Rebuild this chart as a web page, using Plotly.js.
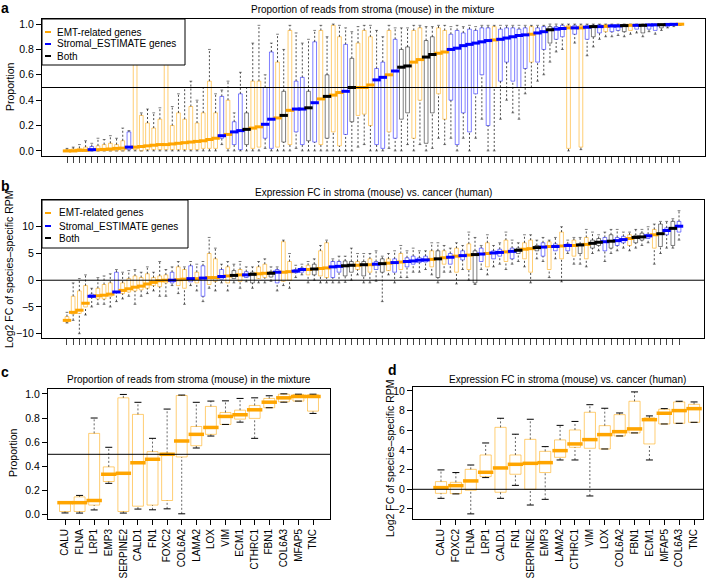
<!DOCTYPE html>
<html><head><meta charset="utf-8">
<script src="https://cdn.plot.ly/plotly-3.0.1.min.js"></script>
<style>html,body{margin:0;padding:0;background:#fff}#chart{width:713px;height:579px}</style>
</head><body><div id="chart"></div>
<script>
// ---------- Panel a: proportion of reads from stroma (per gene, sorted by median) ----------
const aMed=[0,0,.005,.005,.01,.01,.012,.015,.02,.022, .03,.03,.035,.04,.045,.05,.05,.055,.06,.065,
 .07,.075,.08,.09,.10,.12,.13,.15,.16,.17, .18,.19,.21,.25,.26,.28,.32,.33,.33,.34,
 .38,.41,.43,.44,.46,.47,.50,.50,.50,.52, .56,.58,.60,.63,.66,.67,.70,.72,.74,.76,
 .77,.78,.80,.81,.83,.84,.85,.86,.87,.875, .88,.89,.90,.91,.915,.92,.93,.94,.955,.96,
 .965,.97,.97,.97,.975,.98,.98,.982,.985,.985, .988,.99,.99,.99,.993,.994,.995,.997,.998,.999];
const aQ1=[0,0,0,0,0,0,0,0,0,0, .01,.01,0,.01,.01,.01,.01,.01,.01,.01,
 .01,.01,.02,.02,.02,.10,.02,.05,.01,.05, .02,.03,.10,.02,.03,.07,.05,.15,.05,.08,
 .07,.05,.10,.15,.04,.13,.23,.28,.29,.20, .05,.02,.15,.10,.25,.30,.10,.40,.06,.30,
 .45,.25,.40,.05,.30,.15,.45,.60,.20,.50, .55,.70,.55,.50,.65,.70,.70,.80,.85,.88,
 .90,.02,.92,.03,.88,.90,.93,.94,.94,.95, .94,.95,.96,.93,.96,.95,.97,.98,.99,.99];
const aQ3=[.01,.015,.02,.03,.035,.04,.05,.06,.05,.08, .15,.97,.28,.22,.18,.25,.69,.20,.30,.25,
 .35,.22,.30,.55,.30,.43,.40,.23,.45,.30, .55,.55,.50,.78,.70,.47,.95,.55,.58,.47,
 .86,.95,.60,.99,.90,.84,.73,.85,.95,.90, .65,.70,.95,.88,.80,.82,.95,.97,.87,.90,
 .97,.95,.92,.95,.93,.96,.95,.97,.97,.98, .96,.97,.97,.96,.97,.98,.97,.98,.98,.98,
 .99,.99,.99,.99,.99,.99,.995,.995,.995,.995, .997,.997,.998,.998,.998,.999,.999,1,1,1];
const aLo=[0,0,0,0,0,0,0,0,0,0, 0,0,0,0,0,0,0,0,0,0,
 0,0,0,0,0,.05,0,0,0,0, 0,0,.02,0,0,0,0,.02,0,0,
 0,0,0,0,0,0,0,.03,.05,0, 0,0,.02,0,0,.05,0,.05,0,.02,
 .10,.05,.10,0,.10,0,.10,.25,0,0, .25,.40,.30,.25,.45,.50,.55,.60,.70,.78,
 .80,0,.85,.01,.75,.82,.88,.90,.90,.91, .90,.92,.93,.90,.94,.92,.95,.97,.98,.99];
const aHi=[.02,.03,.05,.08,.06,.10,.09,.12,.10,.18, .16,.99,.30,.33,.30,.34,.73,.35,.45,.50,
 .55,.40,.50,.80,.45,.48,.55,.30,.62,.50, .85,.99,.60,.85,.92,.80,.99,.93,.85,.88,
 .95,.99,.90,1,.99,.97,.94,.98,.99,.99, .95,.90,.99,.97,.97,.97,.99,.99,.98,.98,
 .99,.99,.98,.99,.98,.99,.98,.99,.99,.99, .99,.99,.99,.99,.99,.99,.99,.99,1,1,
 1,1,1,1,1,1,1,1,1,1, 1,1,1,1,1,1,1,1,1,1];
// E = EMT-related, S = Stromal_ESTIMATE, B = both
const aType=['E','E','E','E','S','E','E','E','E','E', 'S','E','E','E','E','E','E','E','E','E',
 'E','E','E','E','E','S','E','S','S','B', 'E','E','S','S','E','B','E','S','S','B',
 'S','E','B','E','E','S','B','E','E','E', 'S','S','E','S','B','B','E','E','B','B',
 'E','E','S','S','S','S','S','S','S','E', 'S','S','S','S','S','E','S','S','B','S',
 'S','E','S','E','S','B','S','E','S','S', 'B','E','S','B','S','S','B','S','S','E'];

// ---------- Panel b: log2 FC stroma vs cancer ----------
const bMed=[-7.5,-6.0,-5.6,-4.3,-3.0,-2.9,-2.8,-2.6,-2.2,-1.9, -1.6,-1.3,-1.1,-0.7,-0.4,-0.1,0.0,0.0,0.1,0.2,
 0.3,0.3,0.4,0.5,0.5,0.7,0.8,0.9,1.0,1.0, 1.1,1.2,1.3,1.3,1.5,1.5,1.6,1.7,2.0,2.0,
 2.1,2.2,2.3,2.5,2.6,2.7,2.8,2.8,2.9,2.9, 3.0,3.1,3.2,3.3,3.4,3.5,3.6,3.75,3.8,3.9,
 4.0,4.2,4.3,4.5,4.6,4.7,4.8,4.9,5.0,5.1, 5.2,5.3,5.4,5.6,5.8,5.9,6.1,6.2,6.3,6.3,
 6.4,6.5,6.5,6.6,6.7,6.9,7.1,7.2,7.3,7.4, 7.6,7.8,8.0,8.1,8.3,8.5,8.7,9.3,9.7,10.1];
const bQ1=[-7.8,-6.3,-6.2,-5.0,-3.2,-3.5,-3.5,-3.0,-2.3,-2.5, -2.2,-2.0,-1.8,-1.5,-1.0,-1.2,-0.5,-0.5,-1.0,-1.5,
 -0.3,-0.5,-3.0,-0.8,-0.2,0.2,-0.5,0.3,-0.2,0.5, -0.5,0.3,0.5,0.6,-0.5,-0.2,0.0,1.4,1.5,1.0,
 1.0,0.8,0.5,0.5,1.5,0.8,1.5,2.0,0.8,1.5, 2.0,1.5,1.8,1.5,2.0,2.5,3.0,3.3,3.4,2.5,
 0.5,3.0,3.0,1.5,3.8,2.0,-0.5,3.5,2.5,4.0, 4.5,3.5,4.0,5.0,4.0,1.5,5.5,4.5,2.0,5.5,
 4.0,5.5,4.5,5.0,4.0,6.0,6.5,5.5,6.0,6.5, 7.0,6.5,7.0,7.5,7.8,6.0,6.3,8.5,6.5,9.0];
const bQ3=[-6.8,-3.0,-2.0,-1.0,-2.6,-1.5,-0.8,-0.5,1.5,-0.5, 0.3,0.8,0.5,1.2,0.5,0.8,1.0,1.5,2.5,2.0,
 2.7,1.5,2.7,5.0,4.0,2.0,2.5,1.8,2.0,1.6, 1.5,2.5,3.0,1.6,2.0,7.2,3.5,2.0,2.3,2.8,
 3.0,5.5,7.0,3.5,3.5,3.6,3.5,3.5,3.5,4.0, 3.5,4.0,4.0,4.0,5.0,4.2,4.5,4.2,4.5,5.5,
 5.5,5.5,5.0,6.0,5.5,6.8,5.5,6.0,7.0,5.5, 5.8,7.5,6.0,6.0,7.0,7.5,6.5,7.0,7.2,6.8,
 9.0,6.8,7.5,6.8,8.0,7.5,7.8,8.0,8.5,8.0, 8.2,8.5,8.4,8.8,8.6,9.5,10.5,9.8,11.0,11.0];
const bLo=[-8.0,-7.5,-10.0,-6.5,-5.0,-4.5,-4.5,-5.0,-4.0,-3.5, -3.0,-4.5,-3.0,-2.5,-2.0,-3.0,-3.0,-1.0,-2.5,-4.5,
 -1.0,-2.0,-4.0,-1.5,-2.0,-0.5,-2.0,-0.5,-1.5,-0.3, -1.5,-0.5,-0.5,-0.2,-2.0,-1.0,-1.5,0.5,1.0,-0.5,
 0.0,-0.5,-0.5,-0.5,-0.5,-0.4,0.0,1.0,-0.5,-0.5, -0.2,-4.0,1.0,-0.5,0.5,0.5,1.5,1.5,2.0,1.0,
 -0.5,1.5,1.5,-0.7,2.0,0.0,-0.8,2.0,1.0,2.5, 3.0,2.0,3.0,3.5,2.5,-0.5,4.0,3.5,0.5,4.0,
 -0.3,5.0,3.0,3.0,2.5,5.0,5.5,3.5,5.0,5.5, 6.0,5.5,6.0,6.5,7.0,3.0,5.0,6.0,6.0,7.5];
const bHi=[-6.0,-0.5,0.3,1.0,-1.5,0.5,0.8,1.2,2.0,1.5, 1.8,2.0,1.5,2.5,1.5,3.5,2.0,2.5,3.5,2.5,
 3.5,3.0,3.5,8.0,6.0,3.0,3.5,3.0,3.5,2.5, 2.5,3.5,4.0,2.5,2.5,7.5,5.0,2.8,3.0,3.5,
 4.0,6.5,7.5,4.0,4.5,4.5,6.0,5.0,5.0,5.0, 5.5,4.5,5.0,5.5,6.5,5.5,6.0,5.5,5.5,7.0,
 7.0,6.5,6.0,7.0,6.5,9.0,8.0,6.5,8.5,6.5, 7.0,9.0,7.5,7.0,8.5,8.5,7.5,8.0,7.5,8.0,
 10.0,7.5,8.0,8.0,9.5,9.0,8.5,9.0,9.5,9.5, 9.0,9.0,9.5,9.5,10.0,10.5,11.0,11.0,11.5,13.0];
const bType=['E','E','E','E','S','E','E','E','S','E', 'E','E','E','E','E','E','E','S','E','E',
 'S','E','S','E','E','S','E','B','E','S', 'B','E','E','B','S','E','E','S','S','E',
 'B','E','E','S','S','B','B','E','B','E', 'S','B','E','S','E','S','S','S','S','E',
 'B','E','S','E','S','E','B','S','E','S', 'S','E','S','B','E','E','B','S','E','S',
 'E','S','E','B','E','B','B','S','B','S', 'S','E','B','B','S','E','B','S','B','S'];

// ---------- Panel c: selected EMT genes, proportion ----------
const cGenes=['CALU','FLNA','LRP1','EMP3','SERPINE2','CALD1','FN1','FOXC2','COL6A2','LAMA2','LOX','VIM','ECM1','CTHRC1','FBN1','COL6A3','MFAP5','TNC'];
const cMed=[0.10,0.10,0.118,0.335,0.343,0.43,0.459,0.50,0.61,0.665,0.722,0.813,0.827,0.868,0.931,0.967,0.978,0.978];
const cQ1=[0.027,0.027,0.08,0.275,0.027,0.071,0.08,0.118,0.478,0.571,0.665,0.747,0.791,0.797,0.885,0.934,0.94,0.857];
const cQ3=[0.104,0.148,0.673,0.396,0.967,0.83,0.522,0.508,0.986,0.73,0.896,0.846,0.865,0.904,0.962,0.997,0.995,0.992];
const cLo=[0.015,0.014,0.04,0.26,0.014,0.047,0.041,0.049,0.008,0.552,0.651,0.747,0.766,0.632,0.885,0.931,0.94,0.838];
const cHi=[0.105,0.16,0.80,0.558,0.995,0.93,0.632,0.874,0.99,0.93,0.94,0.942,0.962,0.967,0.984,1.0,0.997,0.997];

// ---------- Panel d: selected EMT genes, log2 FC ----------
const dGenes=['CALU','FOXC2','FLNA','LRP1','CALD1','FN1','SERPINE2','EMP3','LAMA2','CTHRC1','VIM','LOX','COL6A2','FBN1','ECM1','MFAP5','COL6A3','TNC'];
const dMed=[0.17,0.37,0.85,1.73,2.17,2.54,2.64,2.71,3.93,4.61,5.05,5.56,5.86,6.14,7.08,7.73,8.0,8.2];
const dQ1=[-0.41,-0.44,-0.1,1.29,-0.3,1.53,0,1.7,3.25,4.27,4.17,4.1,5.42,5.73,4.61,6.64,6.71,6.81];
const dQ3=[0.78,0.71,2.03,3.49,6.3,3.49,5.08,3.86,5.02,6.03,7.83,6.47,7.59,8.95,7.25,8.14,8.88,8.64];
const dLo=[-0.92,-0.47,-2.5,1.19,-0.92,0.4,-1.6,-1.02,2.98,2.98,-0.68,4.1,5.42,5.73,2.98,6.64,6.71,6.81];
const dHi=[1.97,1.7,2.47,4.71,7.22,5.6,7.12,4.34,6.5,6.9,8.6,8.24,7.76,9.9,7.46,8.2,8.95,8.88];

const seriesKeys=['E','S','B'];
const seriesNames={E:'EMT-related genes',S:'Stromal_ESTIMATE genes',B:'Both'};
const yTicksProp=[0,0.2,0.4,0.6,0.8,1.0];
const yTicksB=[-10,-5,0,5,10];
const yTicksD=[-2,0,2,4,6,8,10];

// ---------- rendering ----------
const F='"Liberation Sans", Arial, Helvetica, sans-serif';
const W=713,H=579;
const X=p=>p/W, Y=p=>1-p/H;
const BOXLINE={E:'rgba(255,165,0,0.55)',S:'rgba(0,0,255,0.5)',B:'rgba(0,0,0,0.5)'};
const MEDCOL={E:'#FFA500',S:'#0000FF',B:'#000000'};

function buildPanel(c){
  const pos=c.med.map((_,i)=>i+1);
  const tr=[];
  const wx=[],wy=[];
  pos.forEach((p,i)=>{wx.push(p,p,null,p,p,null);wy.push(c.lo[i],c.q1[i],null,c.q3[i],c.hi[i],null);});
  tr.push({type:'scatter',mode:'lines',x:wx,y:wy,xaxis:c.xa,yaxis:c.ya,hoverinfo:'skip',showlegend:false,
    line:{color:c.whiskCol,width:1,dash:'2px,2px'}});
  const types=c.types||c.med.map(()=> 'E');
  seriesKeys.forEach(k=>{
    const idx=types.map((t,i)=>t===k?i:-1).filter(i=>i>=0);
    if(!idx.length) return;
    const g=a=>idx.map(i=>a[i]);
    tr.push({type:'box',x:g(pos),q1:g(c.q1),median:g(c.med),q3:g(c.q3),lowerfence:g(c.q1),upperfence:g(c.q3),
      width:c.boxW,boxpoints:false,whiskerwidth:0,xaxis:c.xa,yaxis:c.ya,hoverinfo:'skip',showlegend:false,
      line:{color:BOXLINE[k],width:1},fillcolor:'rgba(255,255,255,0)'});
  });
  tr.push({type:'scatter',mode:'markers',x:pos.concat(pos),y:c.lo.concat(c.hi),xaxis:c.xa,yaxis:c.ya,hoverinfo:'skip',showlegend:false,
    marker:{symbol:'line-ew',size:c.capSize,line:{color:c.capCol,width:1}}});
  seriesKeys.forEach(k=>{
    const idx=types.map((t,i)=>t===k?i:-1).filter(i=>i>=0);
    if(!idx.length) return;
    tr.push({type:'scatter',mode:'markers',name:seriesNames[k],x:idx.map(i=>pos[i]),y:idx.map(i=>c.med[i]),
      xaxis:c.xa,yaxis:c.ya,hoverinfo:'skip',showlegend:false,
      marker:{symbol:'line-ew',size:c.medSize,color:MEDCOL[k],line:{color:MEDCOL[k],width:c.medW}}});
  });
  return {traces:tr,pos};
}

const pa=buildPanel({med:aMed,q1:aQ1,q3:aQ3,lo:aLo,hi:aHi,types:aType,xa:'x',ya:'y',boxW:0.6,medSize:6,medW:3,capSize:2,whiskCol:'rgba(0,0,0,0.7)',capCol:'rgba(0,0,0,0.5)'});
const pb=buildPanel({med:bMed,q1:bQ1,q3:bQ3,lo:bLo,hi:bHi,types:bType,xa:'x2',ya:'y2',boxW:0.6,medSize:6,medW:3,capSize:2,whiskCol:'rgba(0,0,0,0.7)',capCol:'rgba(0,0,0,0.5)'});
const pc=buildPanel({med:cMed,q1:cQ1,q3:cQ3,lo:cLo,hi:cHi,xa:'x3',ya:'y3',boxW:0.75,medSize:11,medW:3.5,capSize:5,whiskCol:'rgba(0,0,0,0.6)',capCol:'#000'});
const pd=buildPanel({med:dMed,q1:dQ1,q3:dQ3,lo:dLo,hi:dHi,xa:'x4',ya:'y4',boxW:0.75,medSize:11,medW:3.5,capSize:5,whiskCol:'rgba(0,0,0,0.6)',capCol:'#000'});

const axBase={showline:true,mirror:true,linecolor:'#000',linewidth:1,ticks:'outside',ticklen:5,tickcolor:'#000',tickwidth:1,
  showgrid:false,zeroline:false,fixedrange:true,tickfont:{family:F,size:10.5,color:'#000'}};

const hline=(xr,yr,v)=>({type:'line',xref:xr+' domain',x0:0,x1:1,yref:yr,y0:v,y1:v,line:{color:'#000',width:1}});
const ann=(text,x,y,o)=>Object.assign({text,x:X(x),y:Y(y),xref:'paper',yref:'paper',showarrow:false,xanchor:'center',yanchor:'middle',font:{family:F,size:10,color:'#000'}},o||{});

// compact R-style legend boxes (frame, colour keys, labels)
function legendBox(left,top,right,bottom,rowY,keyX0,keyX1,textX){
  const shapes=[{type:'rect',xref:'paper',yref:'paper',x0:X(left),x1:X(right),y0:Y(bottom),y1:Y(top),line:{color:'#000',width:1},fillcolor:'#fff',layer:'above'}];
  const anns=[];
  seriesKeys.forEach((k,i)=>{
    shapes.push({type:'line',xref:'paper',yref:'paper',x0:X(keyX0),x1:X(keyX1),y0:Y(rowY[i]),y1:Y(rowY[i]),line:{color:MEDCOL[k],width:2},layer:'above'});
    anns.push(ann(seriesNames[k],textX,rowY[i],{xanchor:'left'}));
  });
  return {shapes,anns};
}
const legA=legendBox(42,19,185,65,[32,44,56],45,51,55);
const legB=legendBox(42,200,188,248,[213,226,238],45,51,57);

const layout={
  width:W,height:H,margin:{l:0,r:0,t:0,b:0},paper_bgcolor:'#fff',plot_bgcolor:'#fff',boxmode:'overlay',
  font:{family:F,size:10,color:'#000'},showlegend:false,
  xaxis:Object.assign({},axBase,{domain:[X(42),X(705)],range:[-3.04,104.04],anchor:'y',tickvals:pa.pos,showticklabels:false,ticklen:6,tickcolor:'#444'}),
  yaxis:Object.assign({},axBase,{domain:[Y(156),Y(19)],range:[-0.04,1.04],anchor:'x',tickvals:yTicksProp,tickformat:'.1f'}),
  xaxis2:Object.assign({},axBase,{domain:[X(42),X(704)],range:[-3.04,104.04],anchor:'y2',tickvals:pb.pos,showticklabels:false,ticklen:6,tickcolor:'#444'}),
  yaxis2:Object.assign({},axBase,{domain:[Y(338),Y(200)],range:[-10.8,15],anchor:'x2',tickvals:yTicksB}),
  xaxis3:Object.assign({},axBase,{domain:[X(48),X(330)],range:[-0.165,19.165],anchor:'y3',tickvals:pc.pos,ticktext:cGenes,tickangle:-90,tickfont:{family:F,size:10,color:'#000'}}),
  yaxis3:Object.assign({},axBase,{domain:[Y(519),Y(389)],range:[-0.035,1.04],anchor:'x3',tickvals:yTicksProp,tickformat:'.1f'}),
  xaxis4:Object.assign({},axBase,{domain:[X(413),X(703)],range:[-0.88,18.6],anchor:'y4',tickvals:pd.pos,ticktext:dGenes,tickangle:-90,tickfont:{family:F,size:10,color:'#000'}}),
  yaxis4:Object.assign({},axBase,{domain:[Y(519),Y(387)],range:[-3.02,10.4],anchor:'x4',tickvals:yTicksD}),
  shapes:[hline('x','y',0.5),hline('x2','y2',0),hline('x3','y3',0.5),hline('x4','y4',0)].concat(legA.shapes,legB.shapes),
  annotations:[
    ann('Proportion of reads from stroma (mouse) in the mixture',373,9),
    ann('Expression FC in stroma (mouse) vs. cancer (human)',373,192),
    ann('Proportion of reads from stroma (mouse) in the mixture',189,379),
    ann('Expression FC in stroma (mouse) vs. cancer (human)',567,379),
    ann('<b>a</b>',5,8,{font:{family:F,size:14,color:'#000'}}),
    ann('<b>b</b>',5,186,{font:{family:F,size:14,color:'#000'}}),
    ann('<b>c</b>',5,372,{font:{family:F,size:14,color:'#000'}}),
    ann('<b>d</b>',392,370,{font:{family:F,size:14,color:'#000'}}),
    ann('Proportion',10,87,{textangle:-90,font:{family:F,size:10.5,color:'#000'}}),
    ann('Log2 FC of species–specific RPM',9,269,{textangle:-90,font:{family:F,size:10.5,color:'#000'}}),
    ann('Proportion',13,453,{textangle:-90,font:{family:F,size:10.5,color:'#000'}}),
    ann('Log2 FC of species–specific RPM',390,458,{textangle:-90,font:{family:F,size:10.5,color:'#000'}})
  ].concat(legA.anns,legB.anns)
};

Plotly.newPlot('chart',[].concat(pa.traces,pb.traces,pc.traces,pd.traces),layout,{staticPlot:true,displayModeBar:false});
</script>
</body></html>
